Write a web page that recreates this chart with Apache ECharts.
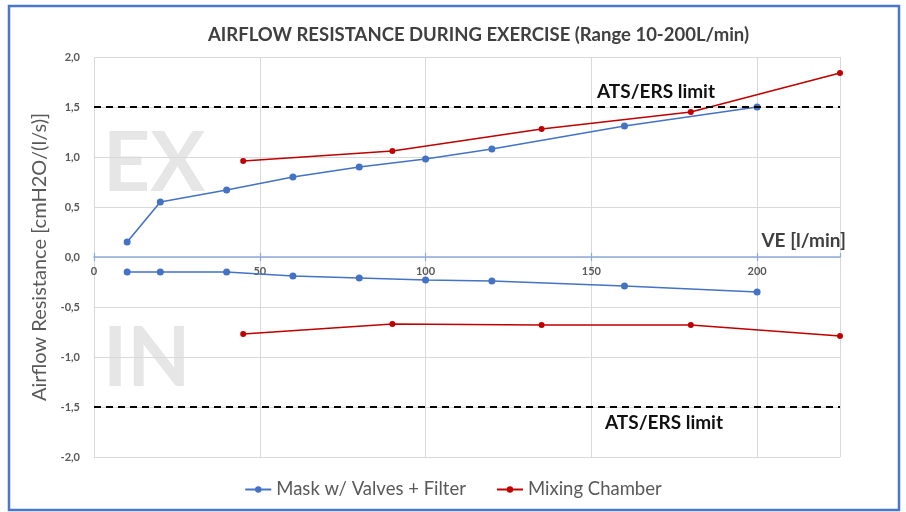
<!DOCTYPE html>
<html>
<head>
<meta charset="utf-8">
<script src="https://cdn.jsdelivr.net/npm/echarts@6/dist/echarts.min.js"></script>
<style>
html,body{margin:0;padding:0;background:#fff;}
#c{width:906px;height:512px;}
</style>
</head>
<body>
<div id="c"></div>
<script>
// ---- data ----
var maskExX = [10, 20, 40, 60, 80, 100, 120, 160, 200];
var maskExY = [0.15, 0.55, 0.67, 0.80, 0.90, 0.98, 1.08, 1.31, 1.50];
var maskInX = [10, 20, 40, 60, 80, 100, 120, 160, 200];
var maskInY = [-0.15, -0.15, -0.15, -0.19, -0.21, -0.23, -0.24, -0.29, -0.35];
var mixExX = [45, 90, 135, 180, 225];
var mixExY = [0.96, 1.06, 1.28, 1.45, 1.84];
var mixInX = [45, 90, 135, 180, 225];
var mixInY = [-0.77, -0.67, -0.68, -0.68, -0.79];
var limitValues = [1.5, -1.5];
var xTicks = [0, 50, 100, 150, 200];
var yTicks = [-2, -1.5, -1, -0.5, 0, 0.5, 1, 1.5, 2];
var seriesNames = ['Mask w/ Valves + Filter', 'Mixing Chamber'];
var titleText = 'AIRFLOW RESISTANCE DURING EXERCISE (Range 10-200L/min)';
var yAxisTitle = 'Airflow Resistance [cmH2O/(l/s)]';
var xAxisTitle = 'VE [l/min]';
var limitText = 'ATS/ERS limit';

function pairs(xs, ys) { return xs.map(function (x, i) { return [x, ys[i]]; }); }

var FONT = 'Lato, "Open Sans", sans-serif';
var BLUE = '#4472c4', RED = '#c00000';

var chart = echarts.init(document.getElementById('c'), null, { renderer: 'canvas' });

function lineSeries(name, data, color, size, withLimits) {
  var s = {
    name: name, type: 'line', data: data,
    symbol: 'circle', symbolSize: size,
    itemStyle: { color: color },
    lineStyle: { color: color, width: 1.6 },
    z: 3, animation: false
  };
  if (withLimits) {
    s.markLine = {
      silent: true, symbol: ['none', 'none'],
      label: { show: false },
      lineStyle: { color: '#000', type: [7, 5], width: 2 },
      data: limitValues.map(function (v) { return { yAxis: v }; })
    };
  }
  return s;
}

var xCommon = { type: 'value', min: 0, max: 225, interval: 50 };
function tickFmt(v) { return xTicks.indexOf(v) >= 0 ? String(v) : ''; }

var option = {
  animation: false,
  textStyle: { fontFamily: FONT },
  title: {
    text: titleText, left: 203, top: 21,
    textStyle: { fontFamily: FONT, fontSize: 18.5, fontWeight: 'bold', color: '#404040' }
  },
  grid: { left: 94, right: 66, top: 57, bottom: 55, containLabel: false },
  legend: {
    bottom: 8, left: 'center', itemGap: 30, itemWidth: 26, itemHeight: 8,
    textStyle: { fontFamily: FONT, fontSize: 18.5, color: '#595959' },
    data: seriesNames
  },
  xAxis: [
    Object.assign({}, xCommon, {
      position: 'bottom',
      axisLine: { show: false }, axisTick: { show: false }, axisLabel: { show: false },
      splitLine: { show: true, lineStyle: { color: '#d9d9d9', width: 1 } }
    }),
    Object.assign({}, xCommon, {
      position: 'bottom', offset: -200,
      axisLine: { show: true, onZero: false, lineStyle: { color: '#8eaadb', width: 1.5 } },
      axisTick: { show: true, inside: false, length: 4, lineStyle: { color: '#8eaadb', width: 1.2 } },
      axisLabel: {
        showMaxLabel: false, margin: 9,
        fontFamily: FONT, fontSize: 11, fontWeight: 'bold', color: '#595959',
        formatter: tickFmt
      },
      splitLine: { show: false }
    }),
    Object.assign({}, xCommon, {
      position: 'bottom', offset: -200,
      axisLine: { show: false, onZero: false },
      axisTick: { show: true, inside: true, length: 4, lineStyle: { color: '#8eaadb', width: 1.2 } },
      axisLabel: { show: false },
      splitLine: { show: false }
    })
  ],
  yAxis: {
    type: 'value', min: -2, max: 2, interval: 0.5,
    name: yAxisTitle, nameLocation: 'middle', nameGap: 44,
    nameTextStyle: { fontFamily: FONT, fontSize: 20, color: '#595959' },
    axisLine: { show: false }, axisTick: { show: false },
    axisLabel: {
      margin: 14, fontFamily: FONT, fontSize: 11, fontWeight: 'bold', color: '#595959',
      formatter: function (v) { return yTicks.indexOf(v) >= 0 ? v.toFixed(1).replace('.', ',') : ''; }
    },
    splitLine: { show: true, lineStyle: { color: '#d9d9d9', width: 1 } }
  },
  graphic: [
    { type: 'rect', z: 100, silent: true,
      shape: { x: 9, y: 6, width: 890, height: 504 },
      style: { fill: 'none', stroke: '#4a76cc', lineWidth: 2.5 } },
    { type: 'text', z: -10, left: 103, top: 124, silent: true,
      style: { text: 'EX', font: 'bold 82px ' + FONT, fill: '#e6e6e6' } },
    { type: 'text', z: -10, left: 103, top: 319, silent: true,
      style: { text: 'IN', font: 'bold 82px ' + FONT, fill: '#e6e6e6' } },
    { type: 'text', z: 10, silent: true, x: 846, y: 241,
      style: { text: xAxisTitle, font: 'bold 19px ' + FONT, fill: '#404040', align: 'right', verticalAlign: 'middle' } },
    { type: 'text', z: 10, silent: true, x: 656, y: 92,
      style: { text: limitText, font: 'bold 19px ' + FONT, fill: '#111', align: 'center', verticalAlign: 'middle' } },
    { type: 'text', z: 10, silent: true, x: 664, y: 423,
      style: { text: limitText, font: 'bold 19px ' + FONT, fill: '#111', align: 'center', verticalAlign: 'middle' } }
  ],
  series: [
    lineSeries(seriesNames[0], pairs(maskExX, maskExY), BLUE, 7, true),
    lineSeries(seriesNames[0], pairs(maskInX, maskInY), BLUE, 7, false),
    lineSeries(seriesNames[1], pairs(mixExX, mixExY), RED, 6, false),
    lineSeries(seriesNames[1], pairs(mixInX, mixInY), RED, 6, false)
  ]
};
chart.setOption(option);
</script>
</body>
</html>
